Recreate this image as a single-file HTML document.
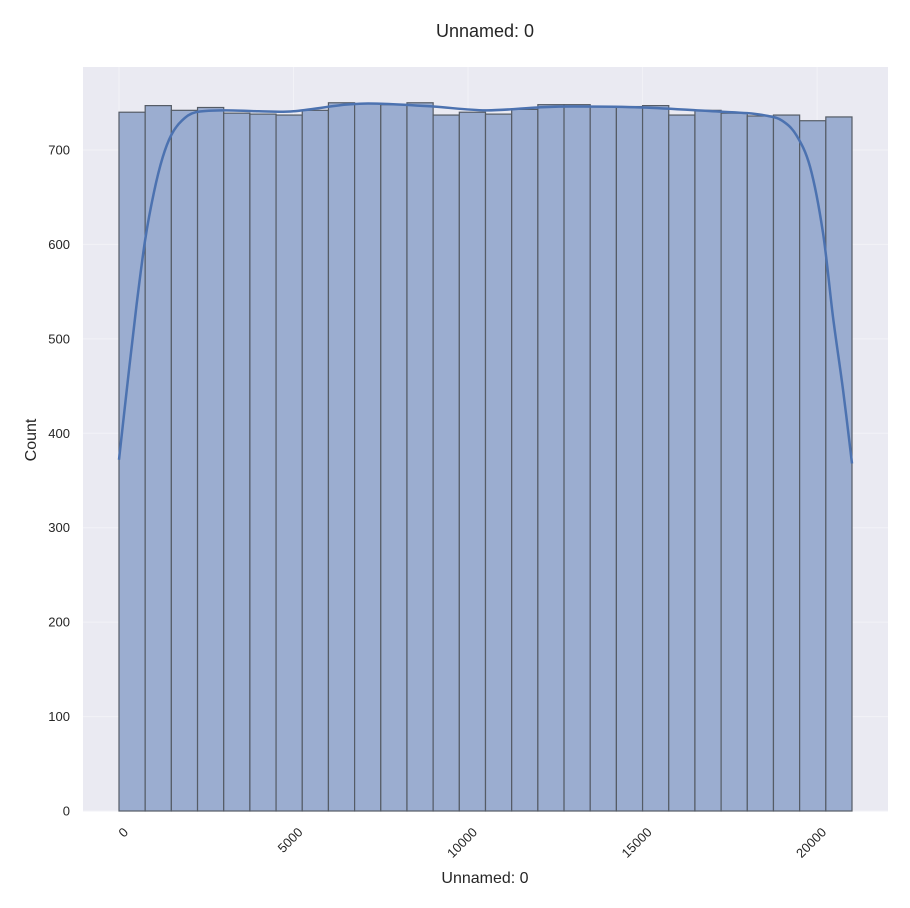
<!DOCTYPE html>
<html><head><meta charset="utf-8"><style>
body{margin:0;background:#fff;}
svg{display:block;font-family:"Liberation Sans",sans-serif;}
</style></head><body>
<svg id="chart" width="910" height="908"></svg>
<script>
const binEdgeStart = 0;
const binWidth = 750;
const counts = [740,747,742,745,739,738,737,742,750,749,748,750,737,740,738,743,748,748,746,746,747,737,742,739,736,737,731,735];
const kdeX = [0,250,500,750,1000,1250,1500,1800,2200,3000,4000,5000,6500,7500,9000,10500,12000,13000,15000,17000,18000,18600,19000,19400,19800,20170,20456,20743,21000];
const kdeY = [372,455,535,605,655,692,716,731,740,742,741,741,748,749,746,742,745,746,745,741,739,736,731,716,682,612,523,446,368];
const xTicks = [0,5000,10000,15000,20000];
const yTicks = [0,100,200,300,400,500,600,700];

const NS="http://www.w3.org/2000/svg";
const svg=document.getElementById('chart');
const L=83,R=888,T=67,B=811;
const xs=v=>119+(v/21000)*(852-119);
const ys=v=>811-v*0.9443;
function mk(t,a,p){const e=document.createElementNS(NS,t);for(const k in a)e.setAttribute(k,a[k]);(p||svg).appendChild(e);return e;}

const bg=mk('rect',{x:L,y:T,width:R-L,height:B-T,fill:'#eaeaf2'});



yTicks.forEach(v=>{
  const g=mk('line',{x1:L,x2:R,y1:ys(v),y2:ys(v),stroke:'#f2f2f7','stroke-width':1});
  
  
  const t=mk('text',{x:70,y:ys(v)+4.5,'text-anchor':'end','font-size':13,fill:'#262626'});
  t.textContent=v;
  
  
});
xTicks.forEach(v=>{
  const g=mk('line',{x1:xs(v),x2:xs(v),y1:T,y2:B,stroke:'#f2f2f7','stroke-width':1});
  
  
  const x=xs(v)+10,y=833;
  const t=mk('text',{x:x,y:y,'text-anchor':'end','font-size':13,fill:'#262626',transform:`rotate(-45 ${x} ${y})`});
  t.textContent=v;
  
  
});

counts.forEach((c,i)=>{
  const x0=xs(binEdgeStart+i*binWidth),x1=xs(binEdgeStart+(i+1)*binWidth);
  const r=mk('rect',{x:x0,y:ys(c),width:x1-x0,height:ys(0)-ys(c),fill:'#9badd0',stroke:'#555c66','stroke-width':1.2});
  
  
});

const pts=kdeX.map((x,i)=>[xs(x),ys(kdeY[i])]);
let d=`M${pts[0][0]},${pts[0][1]}`;
for(let i=0;i<pts.length-1;i++){
  const p0=pts[Math.max(0,i-1)],p1=pts[i],p2=pts[i+1],p3=pts[Math.min(pts.length-1,i+2)];
  const c1=[p1[0]+(p2[0]-p0[0])/6,p1[1]+(p2[1]-p0[1])/6];
  const c2=[p2[0]-(p3[0]-p1[0])/6,p2[1]-(p3[1]-p1[1])/6];
  d+=`C${c1[0]},${c1[1]} ${c2[0]},${c2[1]} ${p2[0]},${p2[1]}`;
}
const k=mk('path',{d:d,fill:'none',stroke:'#4c72b0','stroke-width':2.5});



const ti=mk('text',{x:485,y:37,'text-anchor':'middle','font-size':18,fill:'#262626'});
ti.textContent='Unnamed: 0';


const xl=mk('text',{x:485,y:883,'text-anchor':'middle','font-size':16,fill:'#262626'});
xl.textContent='Unnamed: 0';


const yl=mk('text',{x:36,y:440,'text-anchor':'middle','font-size':16,fill:'#262626',transform:'rotate(-90 36 440)'});
yl.textContent='Count';


</script>
</body></html>
